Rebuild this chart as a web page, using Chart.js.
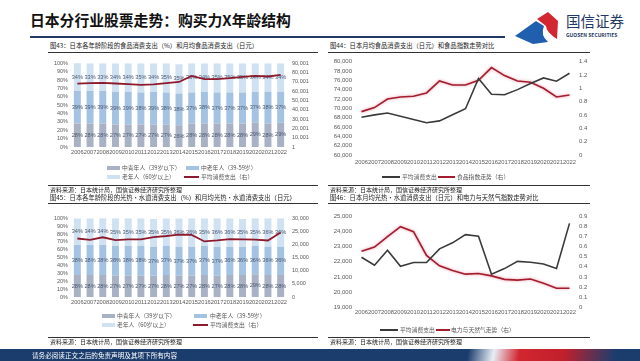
<!DOCTYPE html>
<html>
<head>
<meta charset="utf-8">
<script src="https://cdn.jsdelivr.net/npm/chart.js@4.4.0/dist/chart.umd.min.js"></script>
<style>
body{margin:0;width:640px;height:361px;position:relative;overflow:hidden;background:#fff;font-family:"Noto Sans CJK SC",sans-serif;}
.t{position:absolute;white-space:nowrap;line-height:10px;}
.cap{font-size:6.3px;color:#1a1a1a;}
.src{font-size:6px;color:#1a1a1a;}
.rule{position:absolute;height:1px;background:#333;}
.lg{position:absolute;font-size:5.8px;color:#555;white-space:nowrap;line-height:8px;}
.sw{position:absolute;}
canvas{position:absolute;}
</style>
</head>
<body>

<!-- header -->
<div class="t" style="left:30px;top:9px;font-size:14.8px;line-height:22px;font-weight:700;color:#111;">日本分行业股票走势：购买力X年龄结构</div>
<div style="position:absolute;left:30px;top:36px;width:475px;height:2px;background:#1f3864;"></div>
<svg style="position:absolute;left:0;top:0" width="640" height="50">
  <path d="M515,36 L536,21 L544,26 Q540,35 548,42 L533,44 Z" fill="#1f5fae"/>
  <path d="M537,19 L548,12 L558,21 L557,39 Q546,32 546,26 Z" fill="#d22630"/>
</svg>
<div class="t" style="left:566px;top:11px;font-size:14.5px;line-height:20px;color:#1f3864;">国信证券</div>
<div class="t" style="left:566px;top:31px;font-size:5px;line-height:7px;font-weight:700;color:#1f3864;">GUOSEN SECURITIES</div>

<!-- captions -->
<div class="t cap" style="left:50px;top:41px;">图43：日本各年龄阶段的食品消费支出（%）和月均食品消费支出（日元）</div>
<div class="rule" style="left:48px;top:52px;width:270px;"></div>
<div class="t cap" style="left:330px;top:41px;">图44：日本月均食品消费支出（日元）和食品指数走势对比</div>
<div class="rule" style="left:328px;top:52px;width:262px;"></div>

<canvas id="c1" width="265" height="105" style="left:50px;top:55px;"></canvas>
<canvas id="c2" width="262" height="114" style="left:330px;top:55px;"></canvas>

<!-- legend chart 1 -->
<div class="sw" style="left:107px;top:166px;width:13px;height:4px;background:#a9b2c5;"></div>
<div class="lg" style="left:122px;top:164px;">中青年人（39岁以下）</div>
<div class="sw" style="left:186px;top:166px;width:13px;height:4px;background:#a4c3e3;"></div>
<div class="lg" style="left:201px;top:164px;">中老年人（39-59岁）</div>
<div class="sw" style="left:107px;top:175px;width:13px;height:4px;background:#d0e2f2;"></div>
<div class="lg" style="left:122px;top:173px;">老年人（60岁以上）</div>
<div class="sw" style="left:184px;top:176px;width:15px;height:2px;background:#8e1b2d;"></div>
<div class="lg" style="left:201px;top:173px;">平均消费支出（右）</div>

<!-- legend chart 2 -->
<div class="sw" style="left:382px;top:176px;width:18px;height:1.5px;background:#3a3a3a;"></div>
<div class="lg" style="left:402px;top:173px;">平均消费支出</div>
<div class="sw" style="left:438px;top:176px;width:17px;height:1.5px;background:#a31d2e;"></div>
<div class="lg" style="left:457px;top:173px;">食品指数走势（右）</div>

<div class="rule" style="left:48px;top:185px;width:270px;"></div>
<div class="t src" style="left:50px;top:185px;">资料来源：日本统计局，国信证券经济研究所整理</div>
<div class="rule" style="left:328px;top:185px;width:262px;"></div>
<div class="t src" style="left:330px;top:185px;">资料来源：日本统计局，国信证券经济研究所整理</div>

<div class="t cap" style="left:50px;top:193px;">图45：日本各年龄阶段的光热·水道消费支出（%）和月均光热·水道消费支出（日元）</div>
<div class="rule" style="left:48px;top:203px;width:270px;"></div>
<div class="t cap" style="left:330px;top:193px;">图46：日本月均光热·水道消费支出（日元）和电力与天然气指数走势对比</div>
<div class="rule" style="left:328px;top:203px;width:262px;"></div>

<canvas id="c3" width="265" height="100" style="left:50px;top:210px;"></canvas>
<canvas id="c4" width="262" height="108" style="left:330px;top:210px;"></canvas>

<!-- legend chart 3 -->
<div class="sw" style="left:102px;top:314px;width:13px;height:4px;background:#a9b2c5;"></div>
<div class="lg" style="left:117px;top:312px;">中青年人（39岁以下）</div>
<div class="sw" style="left:194px;top:314px;width:13px;height:4px;background:#a4c3e3;"></div>
<div class="lg" style="left:210px;top:312px;">中老年人（39-59岁）</div>
<div class="sw" style="left:102px;top:323px;width:13px;height:4px;background:#d0e2f2;"></div>
<div class="lg" style="left:117px;top:321px;">老年人（60岁以上）</div>
<div class="sw" style="left:193px;top:324px;width:15px;height:2px;background:#8e1b2d;"></div>
<div class="lg" style="left:210px;top:321px;">平均消费支出（右）</div>

<!-- legend chart 4 -->
<div class="sw" style="left:380px;top:329px;width:18px;height:1.5px;background:#3a3a3a;"></div>
<div class="lg" style="left:400px;top:326px;">平均消费支出</div>
<div class="sw" style="left:436px;top:329px;width:14px;height:1.5px;background:#a31d2e;"></div>
<div class="lg" style="left:451px;top:326px;">电力与天然气走势（右）</div>

<div class="rule" style="left:48px;top:337px;width:270px;"></div>
<div class="t src" style="left:50px;top:337px;">资料来源：日本统计局，国信证券经济研究所整理</div>
<div class="rule" style="left:328px;top:337px;width:262px;"></div>
<div class="t src" style="left:330px;top:337px;">资料来源：日本统计局，国信证券经济研究所整理</div>

<!-- footer -->
<div style="position:absolute;left:0;top:349px;width:640px;height:12px;background:linear-gradient(100deg,#1b3d6e 0%,#1b3d6e 73%,#e8eef6 77%,#d22630 81%,#c0202c 88%,#1b3d6e 96%);"></div>
<div class="t" style="left:32px;top:350px;font-size:6.6px;color:#fff;">请务必阅读正文之后的免责声明及其项下所有内容</div>

<script>
/* ── data ── */
var years = ['2006','2007','2008','2009','2010','2011','2012','2013','2014','2015','2016','2017','2018','2019','2020','2021','2022'];

// 图43: food spending share by age group (%) + monthly food spending (yen)
var foodYoung = [28,28,28,27,27,27,27,27,26,28,28,28,28,28,29,28,29];
var foodMid   = [39,39,39,39,39,38,39,38,38,37,38,37,37,37,37,38,37];
var foodOld   = [34,33,33,34,34,35,34,35,35,35,34,35,35,35,34,34,34];
var foodSpend = [68100,68600,69000,68300,67600,66900,67300,68600,69900,76400,73000,72900,74000,75300,76500,75800,77500];

// 图44: food index
var foodIndex = [0.65,0.71,0.84,0.87,0.88,0.93,1.11,1.05,1.05,1.12,1.31,1.19,1.11,1.09,1.00,0.87,0.90];

// 图45: utilities share by age group (%) + monthly utilities spending (yen)
var utilYoung = [28,28,28,27,27,27,27,28,27,27,28,27,28,28,29,28,28];
var utilMid   = [38,38,38,38,38,38,37,37,37,37,37,37,36,36,36,36,36];
var utilOld   = [34,34,34,35,35,35,35,35,36,36,35,36,36,35,35,36,36];
var utilSpend = [22300,21770,22760,21700,21950,21950,22860,23260,23800,23700,21180,21550,22030,21970,21860,21550,24550];

// 图46: electricity & gas index
var gasIndex = [0.556,0.596,0.70,0.80,0.75,0.514,0.41,0.363,0.327,0.334,0.31,0.275,0.268,0.278,0.236,0.187,0.187];

// tick labels
var pctTicks = ['0%','10%','20%','30%','40%','50%','60%','70%','80%','90%','100%'];
var foodRightTicks = ['1','10,001','20,001','30,001','40,001','50,001','60,001','70,001','80,001','90,001'];
var utilRightTicks = ['0','5,000','10,000','15,000','20,000','25,000','30,000'];
var foodLeftTicks = ['60,000','62,000','64,000','66,000','68,000','70,000','72,000','74,000','76,000','78,000','80,000'];
var utilLeftTicks = ['19,000','20,000','21,000','22,000','23,000','24,000','25,000'];
var foodIdxTicks = ['0','0.2','0.4','0.6','0.8','1','1.2','1.4'];
var gasIdxTicks = ['0','0.1','0.2','0.3','0.4','0.5','0.6','0.7','0.8','0.9'];

/* ── styles ── */
var colYoung = '#a9b2c5', colMid = '#a4c3e3', colOld = '#d0e2f2';
var lineRed = '#8e1b2d', darkLine = '#3a3a3a', idxRed = '#a31d2e';

Chart.defaults.font.family = '"Liberation Sans", Arial, sans-serif';
Chart.defaults.color = '#595959';

function tickCb(arr){ return function(v, i){ return arr[i]; }; }
function fixW(w){ return function(s){ s.width = w; }; }
function fixH(h){ return function(s){ s.height = h; }; }

/* ── segment labels inside stacked bars, drawn before the line ── */
var segLabels = {
  id: 'segLabels',
  beforeDatasetDraw: function(chart, args){
    if(args.index !== 3) return;
    var ctx = chart.ctx;
    ctx.save();
    ctx.font = '5.6px "Liberation Sans", Arial, sans-serif';
    ctx.fillStyle = '#4b5870';
    ctx.textAlign = 'center';
    ctx.textBaseline = 'middle';
    for(var d = 0; d < 3; d++){
      var ds = chart.data.datasets[d];
      chart.getDatasetMeta(d).data.forEach(function(bar, i){
        var top = Math.max(bar.y, chart.chartArea.top);
        ctx.fillText(ds.data[i] + '%', bar.x, (top + bar.base) / 2);
      });
    }
    ctx.restore();
  }
};

/* ── soft pink glow under the index line ── */
var glow = {
  id: 'glow',
  beforeDatasetDraw: function(chart, args){
    if(args.index !== 1) return;
    chart.ctx.save();
    chart.ctx.shadowColor = 'rgba(225,120,140,0.8)';
    chart.ctx.shadowBlur = 3;
  },
  afterDatasetDraw: function(chart, args){
    if(args.index === 1) chart.ctx.restore();
  }
};

function stackChart(id, young, mid, old, spend, rMax, rMin, rStep, rTicks){
  return new Chart(document.getElementById(id), {
    type: 'bar',
    data: {
      labels: years,
      datasets: [
        {label:'中青年人（39岁以下）', data: young, backgroundColor: colYoung, order: 1},
        {label:'中老年人（39-59岁）', data: mid, backgroundColor: colMid, order: 1},
        {label:'老年人（60岁以上）', data: old, backgroundColor: colOld, order: 1},
        {type:'line', label:'平均消费支出（右）', data: spend, yAxisID:'y1',
          borderColor: lineRed, borderWidth: 1.8, pointRadius: 0, order: 0}
      ]
    },
    options: {
      responsive: false, animation: false,
      layout: { padding: { top: 6 } },
      datasets: { bar: { barPercentage: 0.55, categoryPercentage: 1 } },
      plugins: { legend: { display: false }, tooltip: { enabled: false } },
      scales: {
        x: { stacked: true, grid: { display: false, drawTicks: false }, border: { display: false },
             ticks: { font: { size: 5.7 }, autoSkip: false, maxRotation: 0, minRotation: 0, padding: 2 },
             afterFit: fixH(13) },
        y: { stacked: true, min: 0, max: 100,
             ticks: { stepSize: 10, autoSkip: false, callback: tickCb(pctTicks), font: { size: 5.5 }, padding: 3 },
             grid: { display: false, drawTicks: false }, border: { display: false }, afterFit: fixW(21) },
        y1: { position: 'right', min: rMin, max: rMax,
              ticks: { stepSize: rStep, autoSkip: false, callback: tickCb(rTicks), font: { size: 5.5 }, padding: 5 },
              grid: { display: false, drawTicks: false }, border: { display: false }, afterFit: fixW(28) }
      }
    },
    plugins: [segLabels]
  });
}

function dualLine(id, spend, idx, lMin, lMax, lStep, lTicks, rMax, rStep, rTicks, xH, xPad, idxLabel){
  return new Chart(document.getElementById(id), {
    type: 'line',
    data: {
      labels: years,
      datasets: [
        {label:'平均消费支出', data: spend, borderColor: darkLine, borderWidth: 1.6, pointRadius: 0},
        {label: idxLabel, data: idx, yAxisID: 'y1', borderColor: idxRed, borderWidth: 1.6, pointRadius: 0}
      ]
    },
    options: {
      responsive: false, animation: false,
      layout: { padding: { top: 6 } },
      plugins: { legend: { display: false }, tooltip: { enabled: false } },
      scales: {
        x: { offset: true, grid: { display: false, drawTicks: false }, border: { display: false },
             ticks: { font: { size: 5.8 }, autoSkip: false, maxRotation: 0, minRotation: 0, padding: xPad },
             afterFit: fixH(xH) },
        y: { min: lMin, max: lMax,
             ticks: { stepSize: lStep, autoSkip: false, callback: tickCb(lTicks), font: { size: 6 }, padding: 3 },
             grid: { display: false, drawTicks: false }, border: { display: false }, afterFit: fixW(25) },
        y1: { position: 'right', min: 0, max: rMax,
              ticks: { stepSize: rStep, autoSkip: false, callback: tickCb(rTicks), font: { size: 6 }, padding: 3 },
              grid: { display: false, drawTicks: false }, border: { display: false }, afterFit: fixW(16) }
      }
    },
    plugins: [glow]
  });
}

stackChart('c1', foodYoung, foodMid, foodOld, foodSpend, 90001, 1, 10000, foodRightTicks);
stackChart('c3', utilYoung, utilMid, utilOld, utilSpend, 30000, 0, 5000, utilRightTicks);
dualLine('c2', foodSpend, foodIndex, 60000, 80000, 2000, foodLeftTicks, 1.4, 0.2, foodIdxTicks, 14, 4, '食品指数走势（右）');
dualLine('c4', utilSpend, gasIndex, 19000, 25000, 1000, utilLeftTicks, 0.9, 0.1, gasIdxTicks, 11, 2, '电力与天然气走势（右）');
</script>
</body>
</html>
